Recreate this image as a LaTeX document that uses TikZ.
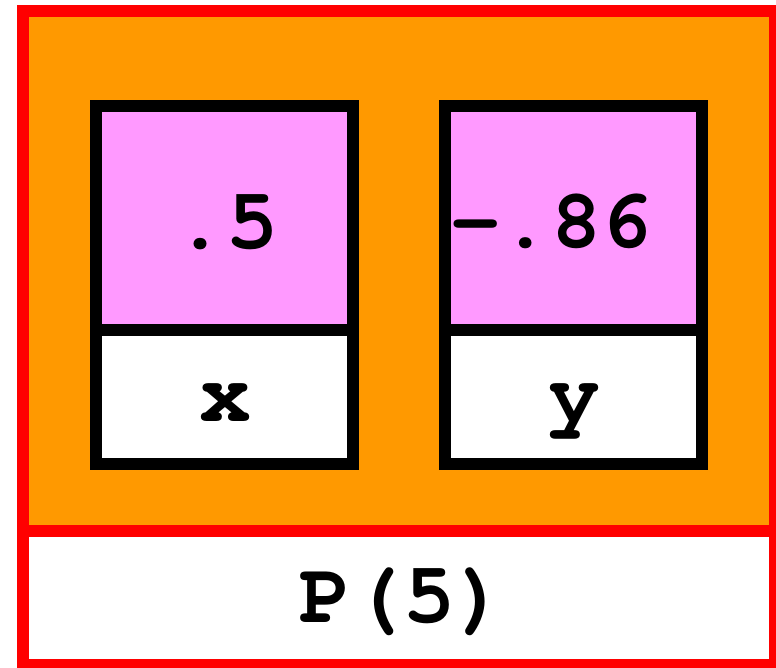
\documentclass[tikz,border=0pt]{standalone}
\usepackage{fontspec}
\newfontfamily\monofnt{texgyrecursor}[Extension=.otf,UprightFont=*-regular,BoldFont=*-bold]
\definecolor{orangebg}{RGB}{255,153,0}
\definecolor{pinkbg}{RGB}{255,153,255}
\definecolor{redline}{RGB}{255,0,0}
\begin{document}
\begin{tikzpicture}[x=0.75pt,y=-0.75pt,
  region/.style={rectangle,draw=redline,line width=9pt,inner sep=0pt,outer sep=0pt},
  cell/.style={rectangle,draw=black,line width=9pt,inner sep=0pt,outer sep=0pt,minimum width=257*0.75pt},
  txt/.style={anchor=base,inner sep=0pt,font=\monofnt\bfseries\fontsize{65}{65}\selectfont}]
\useasboundingbox (0,0) rectangle (776,668);
% outer regions
\node[region,fill=orangebg,minimum width=752*0.75pt,minimum height=520*0.75pt] (top) at (399,271) {};
\node[region,fill=white,minimum width=752*0.75pt,minimum height=134*0.75pt] (bottom) at (399,598) {};
% cells
\node[cell,fill=pinkbg,minimum height=224.5*0.75pt] (xval) at (224.5,217.75) {};
\node[cell,fill=white,minimum height=134*0.75pt] (xlab) at (224.5,397) {};
\node[cell,fill=pinkbg,minimum height=224.5*0.75pt] (yval) at (573.5,217.75) {};
\node[cell,fill=white,minimum height=134*0.75pt] (ylab) at (573.5,397) {};
% texts
\node[txt] (t1) at (226,248) {.5};
\node[txt,font=\monofnt\bfseries\fontsize{63}{63}\selectfont] (t2) at (551,247) {-.86};
\node[txt] (t3) at (225,421) {x};
\node[txt] (t4) at (574,421) {y};
\node[txt] (t5) at (403,622) {P(5)};
\end{tikzpicture}
\end{document}
